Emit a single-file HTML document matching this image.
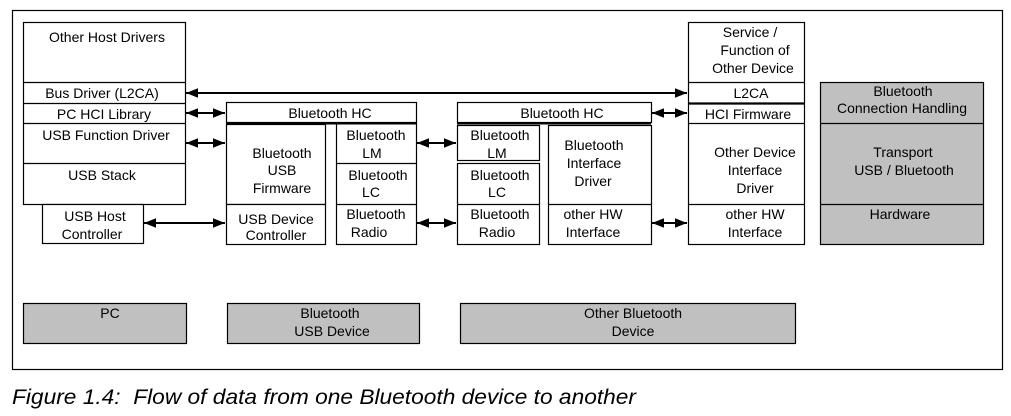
<!DOCTYPE html>
<html><head><meta charset="utf-8"><style>
html,body{margin:0;padding:0;background:#fff;}
svg{display:block;}
text{font-family:"Liberation Sans",Arial,sans-serif;font-size:14px;fill:#000;text-anchor:middle;}
</style></head><body>
<svg width="1011" height="416" viewBox="0 0 1011 416" xmlns="http://www.w3.org/2000/svg">
<defs>
<marker id="a" viewBox="0 0 10 10" refX="10" refY="5" markerWidth="6" markerHeight="6" orient="auto-start-reverse"><path d="M0,1 L10,5 L0,9 z" fill="#000"/></marker>
</defs>
<rect x="12.5" y="10.5" width="990" height="359" fill="#fff" stroke="#000" stroke-width="1.2"/>
<g fill="#fff" stroke="#000" stroke-width="1.2">
<rect x="23.5" y="22.5" width="162" height="182"/>
<line x1="23" y1="82.5" x2="185" y2="82.5"/>
<line x1="23" y1="103.5" x2="185" y2="103.5"/>
<line x1="23" y1="123.5" x2="185" y2="123.5"/>
<line x1="23" y1="163.5" x2="185" y2="163.5"/>
<rect x="42.5" y="204.5" width="101" height="39"/>
<rect x="226.5" y="102.5" width="190" height="20"/>
<rect x="226.5" y="124.5" width="99" height="80"/>
<rect x="226.5" y="204.5" width="99" height="40"/>
<rect x="336.5" y="123.5" width="80" height="121"/>
<line x1="336" y1="163.5" x2="416" y2="163.5"/>
<line x1="336" y1="204.5" x2="416" y2="204.5"/>
<rect x="457.5" y="102.5" width="194" height="20"/>
<rect x="457.5" y="125.5" width="82" height="35"/>
<rect x="457.5" y="163.5" width="82" height="81"/>
<line x1="457" y1="204.5" x2="539" y2="204.5"/>
<rect x="548.5" y="125.5" width="103" height="119"/>
<line x1="548" y1="204.5" x2="651" y2="204.5"/>
<rect x="688.5" y="22.5" width="116" height="222"/>
<line x1="688" y1="82.5" x2="804" y2="82.5"/>
<line x1="688" y1="103.5" x2="804" y2="103.5" stroke-width="2.2"/>
<line x1="688" y1="123.5" x2="804" y2="123.5"/>
<line x1="688" y1="204.5" x2="804" y2="204.5"/>
</g>
<line x1="226" y1="123.5" x2="416" y2="123.5" stroke="#000" stroke-width="2"/>
<line x1="457" y1="123.5" x2="651" y2="123.5" stroke="#000" stroke-width="2"/>
<g fill="#c0c0c0" stroke="#000" stroke-width="1.2">
<rect x="820.5" y="82.5" width="163" height="162"/>
<line x1="820" y1="123.5" x2="983" y2="123.5"/>
<line x1="820" y1="204.5" x2="983" y2="204.5"/>
<rect x="23.5" y="303.5" width="163" height="40"/>
<rect x="227.5" y="303.5" width="192" height="40"/>
<rect x="460.5" y="303.5" width="335" height="40"/>
</g>
<g stroke="#000" stroke-width="2" marker-start="url(#a)" marker-end="url(#a)">
<line x1="186" y1="93" x2="687" y2="93"/>
<line x1="186" y1="113" x2="225" y2="113"/>
<line x1="186" y1="143" x2="225" y2="143"/>
<line x1="144" y1="223" x2="225" y2="223"/>
<line x1="417" y1="143" x2="456" y2="143"/>
<line x1="417" y1="223" x2="456" y2="223"/>
<line x1="652" y1="113" x2="687" y2="113"/>
<line x1="652" y1="223" x2="687" y2="223"/>
</g>
<text x="107" y="42">Other Host Drivers</text>
<text x="102" y="98">Bus Driver (L2CA)</text>
<text x="104" y="119">PC HCI Library</text>
<text x="106" y="140">USB Function Driver</text>
<text x="102" y="180">USB Stack</text>
<text x="95" y="221">USB Host</text>
<text x="92" y="239">Controller</text>
<text x="330" y="118">Bluetooth HC</text>
<text x="282" y="158">Bluetooth</text>
<text x="282" y="175">USB</text>
<text x="282" y="193">Firmware</text>
<text x="276" y="224">USB Device</text>
<text x="276" y="240">Controller</text>
<text x="376" y="140">Bluetooth</text>
<text x="372" y="158">LM</text>
<text x="378" y="180">Bluetooth</text>
<text x="371" y="197">LC</text>
<text x="376" y="219">Bluetooth</text>
<text x="369" y="237">Radio</text>
<text x="562" y="118">Bluetooth HC</text>
<text x="500" y="140">Bluetooth</text>
<text x="497" y="158">LM</text>
<text x="500" y="180">Bluetooth</text>
<text x="497" y="197">LC</text>
<text x="500" y="219">Bluetooth</text>
<text x="497" y="237">Radio</text>
<text x="594" y="150">Bluetooth</text>
<text x="594" y="168">Interface</text>
<text x="593" y="186">Driver</text>
<text x="593" y="219">other HW</text>
<text x="593" y="237">Interface</text>
<text x="750" y="37">Service /</text>
<text x="755" y="55">Function of</text>
<text x="753" y="73">Other Device</text>
<text x="751" y="98">L2CA</text>
<text x="748" y="119">HCI Firmware</text>
<text x="755" y="157">Other Device</text>
<text x="755" y="175">Interface</text>
<text x="755" y="193">Driver</text>
<text x="755" y="219">other HW</text>
<text x="755" y="237">Interface</text>
<text x="903" y="96">Bluetooth</text>
<text x="902" y="113">Connection Handling</text>
<text x="903" y="157">Transport</text>
<text x="904" y="175">USB / Bluetooth</text>
<text x="900" y="219">Hardware</text>
<text x="110" y="318">PC</text>
<text x="330" y="318">Bluetooth</text>
<text x="332" y="336">USB Device</text>
<text x="633" y="318">Other Bluetooth</text>
<text x="633" y="336">Device</text>
<text x="12" y="404" textLength="624" lengthAdjust="spacingAndGlyphs" style="text-anchor:start;font-size:21px;font-style:italic;" xml:space="preserve">Figure 1.4:  Flow of data from one Bluetooth device to another</text>
</svg>
</body></html>
